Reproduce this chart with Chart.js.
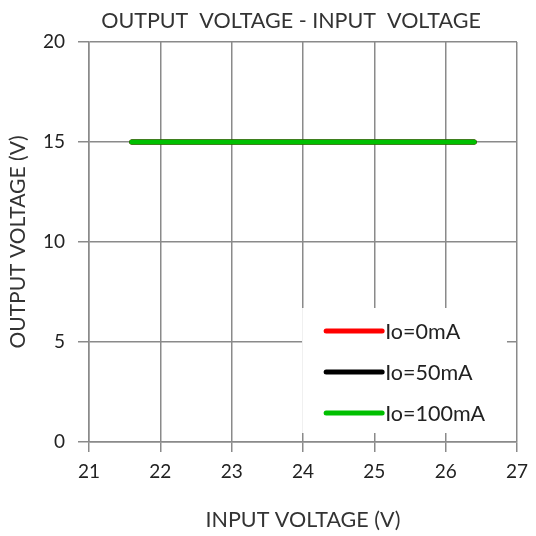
<!DOCTYPE html>
<html>
<head>
<meta charset="utf-8">
<script src="https://cdn.jsdelivr.net/npm/chart.js@4"></script>
<style>
  html, body { margin: 0; padding: 0; background: #fff; }
  #wrap { width: 536px; height: 536px; }
</style>
</head>
<body>
<div id="wrap"><canvas id="mycanvas" width="536" height="536"></canvas></div>
<script>
var inputVoltage = [21.6, 22, 23, 24, 25, 26, 26.4];
var out0mA = [15, 15, 15, 15, 15, 15, 15];
var out50mA = [15, 15, 15, 15, 15, 15, 15];
var out100mA = [15, 15, 15, 15, 15, 15, 15];
var seriesLabels = ['Io=0mA', 'Io=50mA', 'Io=100mA'];
var seriesColors = ['#ff0000', '#000000', '#00c000'];

var FONT = 'Lato, "Open Sans", sans-serif';

function pts(ys) {
	var r = [];
	for (var i in inputVoltage) r.push({x: inputVoltage[i], y: ys[i]});
	return r;
}

// legend drawn inside the plot, bottom right, on a white box
var boxLegend = {
	id: 'boxLegend',
	afterLayout: function(chart) {
		// the title sits a bit right of the canvas centre
		if (chart.titleBlock) {
			chart.titleBlock.left = 62;
			chart.titleBlock.right = 520;
		}
	},
	afterDatasetsDraw: function(chart) {
		var ctx = chart.ctx, a = chart.chartArea;
		var x0 = a.left + (a.right - a.left) * 0.498, x1 = a.right - 10;
		var y0 = a.top + (a.bottom - a.top) * 0.665, y1 = a.bottom - 9;
		ctx.save();
		ctx.fillStyle = '#fff';
		ctx.fillRect(x0, y0, x1 - x0, y1 - y0);
		ctx.font = '21.5px ' + FONT;
		ctx.textBaseline = 'middle';
		chart.data.datasets.forEach(function(ds, i) {
			var y = y0 + 23 + i * 41;
			ctx.strokeStyle = ds.borderColor;
			ctx.lineWidth = 5;
			ctx.lineCap = 'round';
			ctx.beginPath();
			ctx.moveTo(x0 + 24, y);
			ctx.lineTo(x0 + 80, y);
			ctx.stroke();
			ctx.fillStyle = '#222';
			ctx.fillText(ds.label, x0 + 83, y + 1);
		});
		ctx.restore();
	}
};

var chartdata = {
	datasets: [
		{label: seriesLabels[0], data: pts(out0mA), borderColor: seriesColors[0], order: 2},
		{label: seriesLabels[1], data: pts(out50mA), borderColor: seriesColors[1], order: 1},
		{label: seriesLabels[2], data: pts(out100mA), borderColor: seriesColors[2], order: 0}
	]
};

var ctx = document.getElementById('mycanvas');

var lineGraph = new Chart(ctx, {
	type: 'line',
	data: chartdata,
	plugins: [boxLegend],
	options: {
		responsive: false,
		animation: false,
		layout: {padding: {left: 0, right: 16, top: 0, bottom: 0}},
		elements: {
			line: {borderWidth: 5, borderCapStyle: 'round', tension: 0, fill: false},
			point: {radius: 0}
		},
		plugins: {
			legend: {display: false},
			tooltip: {enabled: false},
			title: {
				display: true,
				text: 'OUTPUT  VOLTAGE - INPUT  VOLTAGE',
				color: '#333',
				font: {family: FONT, size: 21.5, weight: 'normal'},
				padding: {top: 8, bottom: 8.2}
			}
		},
		scales: {
			x: {
				type: 'linear',
				min: 21,
				max: 27,
				ticks: {stepSize: 1, color: '#222', font: {family: FONT, size: 19}, padding: 8},
				grid: {color: '#8a8a8a', lineWidth: 1.5, tickLength: 10},
				border: {color: '#8a8a8a', width: 1.5},
				title: {display: true, text: 'INPUT VOLTAGE (V)', color: '#333', font: {family: FONT, size: 21.5}, padding: {bottom: 3}},
				afterFit: function(s) { s.height = 94; }
			},
			y: {
				min: 0,
				max: 20,
				ticks: {stepSize: 5, color: '#222', font: {family: FONT, size: 19}, padding: 13},
				grid: {color: '#8a8a8a', lineWidth: 1.5, tickLength: 11},
				border: {color: '#8a8a8a', width: 1.5},
				title: {display: true, text: 'OUTPUT VOLTAGE (V)', color: '#333', font: {family: FONT, size: 21}, padding: {top: 6}},
				afterFit: function(s) { s.width = 89; }
			}
		}
	}
});
</script>
</body>
</html>
